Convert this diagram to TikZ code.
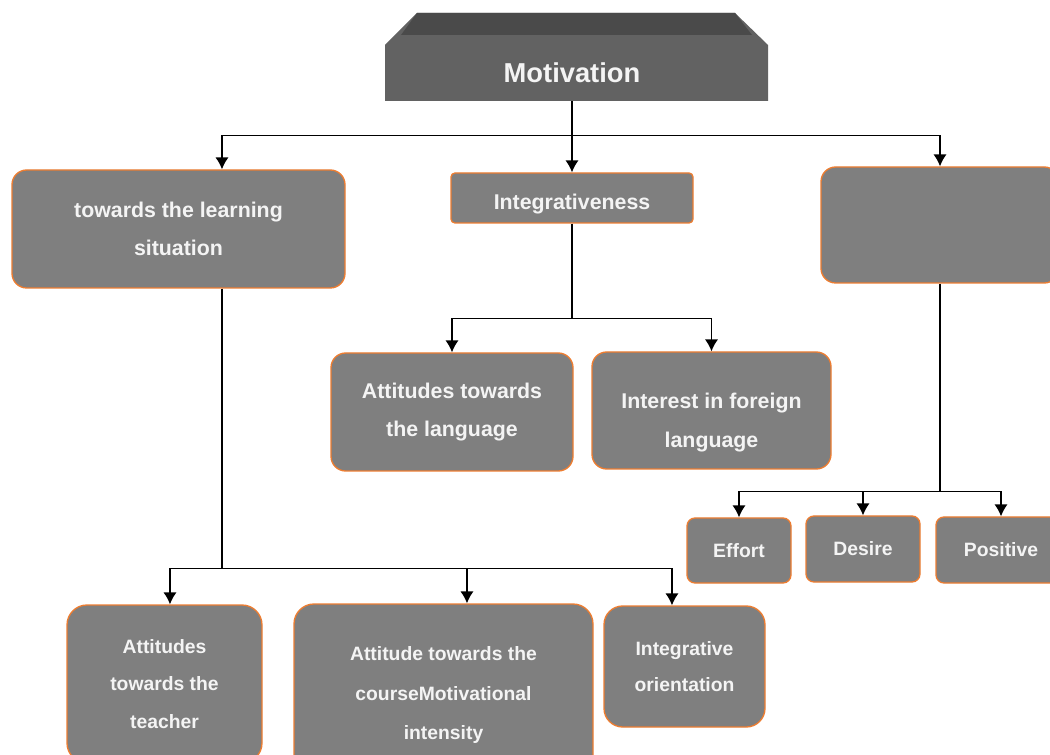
\documentclass[tikz,border=0pt]{standalone}
\usepackage{fontspec}
\setmainfont{Liberation Sans}
\usepackage{tikz}
\usetikzlibrary{arrows.meta}
\definecolor{boxgrey}{HTML}{7F7F7F}
\definecolor{boxedge}{HTML}{ED7D31}
\definecolor{headfront}{HTML}{626262}
\definecolor{headtop}{HTML}{4A4A4A}
\definecolor{boxtext}{HTML}{F4F4F4}

\begin{document}
\begin{tikzpicture}[x=0.75pt, y=-0.75pt, >={Latex[length=9pt, width=10pt]},
	box/.style={draw=boxedge, line width=1pt, fill=boxgrey, rounded corners=11pt, text=boxtext, align=center, inner sep=0pt},
	link/.style={line width=1.1pt}]
	\path[use as bounding box] (0, 0) rectangle (1050, 755);
	\clip (0, 0) rectangle (1050, 755);
	% header block
	\fill[headfront] (385, 101) -- (385, 45) -- (417, 13) -- (735, 13) -- (768, 45) -- (768, 101) -- cycle;
	\fill[headtop] (417, 13) -- (735, 13) -- (752, 35) -- (401, 35) -- cycle;
	\node[text=boxtext, font=\fontsize{20.5}{24}\bfseries\selectfont, minimum height=42pt, inner sep=0pt] (mot) at (572, 73) {Motivation};
	% first level
	\node[box, minimum width=249.75pt, minimum height=88.5pt, font=\fontsize{16}{28}\bfseries\selectfont] (learn) at (178.5, 229) {towards the learning\\situation};
	\node[box, rounded corners=3pt, minimum width=181.5pt, minimum height=37.5pt,
		label={[yshift=-4.5pt, text=boxtext, font=\fontsize{16}{28}\bfseries\selectfont]center:Integrativeness}] (integ) at (572, 198) {};
	\node[box, minimum width=178.5pt, minimum height=87pt] (right) at (940, 225) {};
	% second level
	\node[box, minimum width=181.5pt, minimum height=88.5pt, font=\fontsize{16}{28.5}\bfseries\selectfont] (lang) at (452, 412) {Attitudes towards\\the language};
	\node[box, minimum width=179.25pt, minimum height=87.75pt,
		label={[yshift=-9pt, text=boxtext, align=center, font=\fontsize{16}{29}\bfseries\selectfont]center:{Interest in foreign\\language}}] (interest) at (711.5, 410.5) {};
	\node[box, rounded corners=6pt, minimum width=78pt, minimum height=48.75pt, font=\fontsize{14.5}{20}\bfseries\selectfont] (effort) at (739, 550.5) {Effort};
	\node[box, rounded corners=6pt, minimum width=85.5pt, minimum height=49.5pt, font=\fontsize{14.5}{20}\bfseries\selectfont] (desire) at (863, 549) {Desire};
	\node[box, rounded corners=6pt, minimum width=97.5pt, minimum height=49.5pt, font=\fontsize{14.5}{20}\bfseries\selectfont] (positive) at (1001, 550) {Positive};
	% third level
	\node[box, rounded corners=15pt, minimum width=146.25pt, minimum height=118.5pt, font=\fontsize{14.5}{28}\bfseries\selectfont] (teacher) at (164.5, 684) {Attitudes\\towards the\\teacher};
	\node[box, rounded corners=15pt, minimum width=224.25pt, minimum height=136.5pt, font=\fontsize{14.5}{29.5}\bfseries\selectfont] (course) at (443.5, 695) {Attitude towards the\\courseMotivational\\intensity};
	\node[box, rounded corners=14pt, minimum width=120.75pt, minimum height=90.75pt, font=\fontsize{14.5}{27}\bfseries\selectfont] (orient) at (684.5, 666.5) {Integrative\\orientation};
	% connectors
	\draw[link] (mot.south) -- ++(0, 34) coordinate (motbus);
	\draw[link, ->] (motbus) -| ([xshift=32.6pt]learn.north);
	\draw[link, ->] (motbus) -- (integ.north);
	\draw[link, ->] (motbus) -| (right.north);
	\draw[link] (integ.south) -- ++(0, 95) coordinate (intbus);
	\draw[link, ->] (intbus) -| (lang.north);
	\draw[link, ->] (intbus) -| (interest.north);
	\draw[link] ([xshift=32.6pt]learn.south) -- ++(0, 280) coordinate (learnbus);
	\draw[link, ->] (learnbus) -| ([xshift=4.1pt]teacher.north);
	\draw[link, ->] (learnbus) -| ([xshift=17.6pt]course.north);
	\draw[link, ->] (learnbus) -| ([xshift=-9.4pt]orient.north);
	\draw[link] (right.south) -- ++(0, 208) coordinate (rightbus);
	\draw[link, ->] (rightbus) -| (effort.north);
	\draw[link, ->] (rightbus) -| (desire.north);
	\draw[link, ->] (rightbus) -| (positive.north);
\end{tikzpicture}
\end{document}
